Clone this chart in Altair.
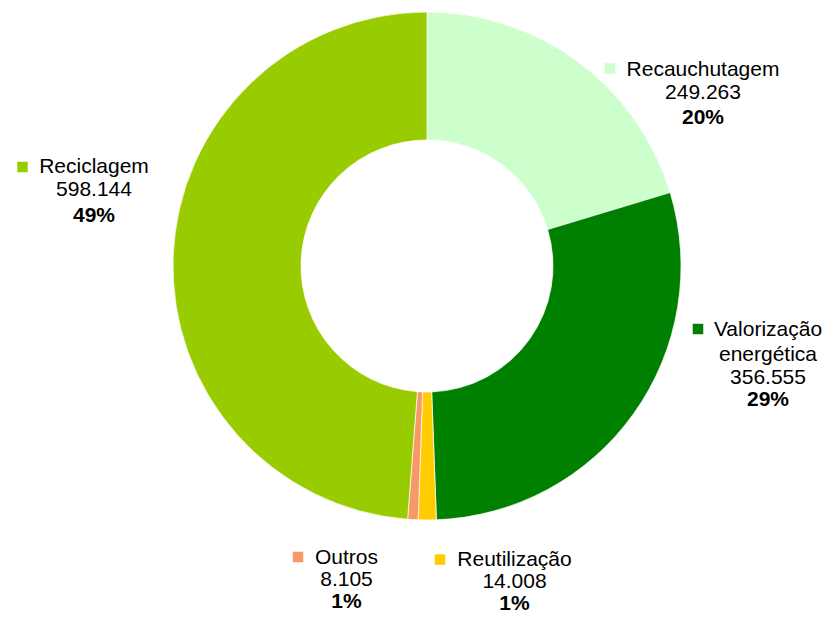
import altair as alt
import pandas as pd

# ---- data ----
categories = ["Recauchutagem", "Valorização energética", "Reutilização", "Outros", "Reciclagem"]
values = [249263, 356555, 14008, 8105, 598144]
percent_labels = ["20%", "29%", "1%", "1%", "49%"]
name_lines = [["Recauchutagem"], ["Valorização", "energética"], ["Reutilização"], ["Outros"], ["Reciclagem"]]
colors = ["#CCFFCC", "#008000", "#FFCC00", "#F99867", "#99CC00"]

value_labels = [f"{v:,}".replace(",", ".") for v in values]

df = pd.DataFrame({
    "category": categories,
    "value": values,
    "idx": list(range(len(categories))),
})

color_scale = alt.Scale(domain=categories, range=colors)
W, H = 815, 606
CX, CY = 419, 258
FONT = "Liberation Sans"
FS = 21

donut = alt.Chart(df).mark_arc(
    outerRadius=254, innerRadius=126, stroke="white", strokeWidth=0.7
).encode(
    theta=alt.Theta("value:Q", stack=True),
    color=alt.Color("category:N", scale=color_scale, legend=None),
    order=alt.Order("idx:Q"),
    x=alt.value(CX),
    y=alt.value(CY),
)

# label layout: legend key position, text center x, line y positions
layout = {
    "Recauchutagem": dict(key=(602, 60.5), cx=695, ys=[62, 85, 109.5]),
    "Valorização energética": dict(key=(690, 321), cx=760, ys=[322, 347, 370, 392]),
    "Reutilização": dict(key=(432, 551.5), cx=506.5, ys=[552, 574, 596]),
    "Outros": dict(key=(290, 549), cx=338.5, ys=[550, 572, 594]),
    "Reciclagem": dict(key=(14.5, 159), cx=86, ys=[159, 182, 208]),
}

layers = [donut]
for i, cat in enumerate(categories):
    lay = layout[cat]
    kx, ky = lay["key"]
    layers.append(
        alt.Chart(df).transform_filter(alt.datum.category == cat).mark_square(
            size=110, opacity=1
        ).encode(
            x=alt.value(kx), y=alt.value(ky),
            color=alt.Color("category:N", scale=color_scale, legend=None),
        )
    )
    lines = name_lines[i] + [value_labels[i], percent_labels[i]]
    for j, (txt, y) in enumerate(zip(lines, lay["ys"])):
        bold = j == len(lines) - 1
        layers.append(
            alt.Chart(df).transform_filter(alt.datum.category == cat).mark_text(
                text=txt, font=FONT, fontSize=FS,
                fontWeight="bold" if bold else "normal",
                align="center", baseline="middle", color="#000000",
            ).encode(x=alt.value(lay["cx"]), y=alt.value(y))
        )

chart = alt.layer(*layers).properties(
    width=W, height=H, autosize=alt.AutoSizeParams(type="none"), padding=0,
    background="white",
).configure_view(stroke=None)

chart.save("out.html", embed_options={"renderer": "svg", "actions": False})
